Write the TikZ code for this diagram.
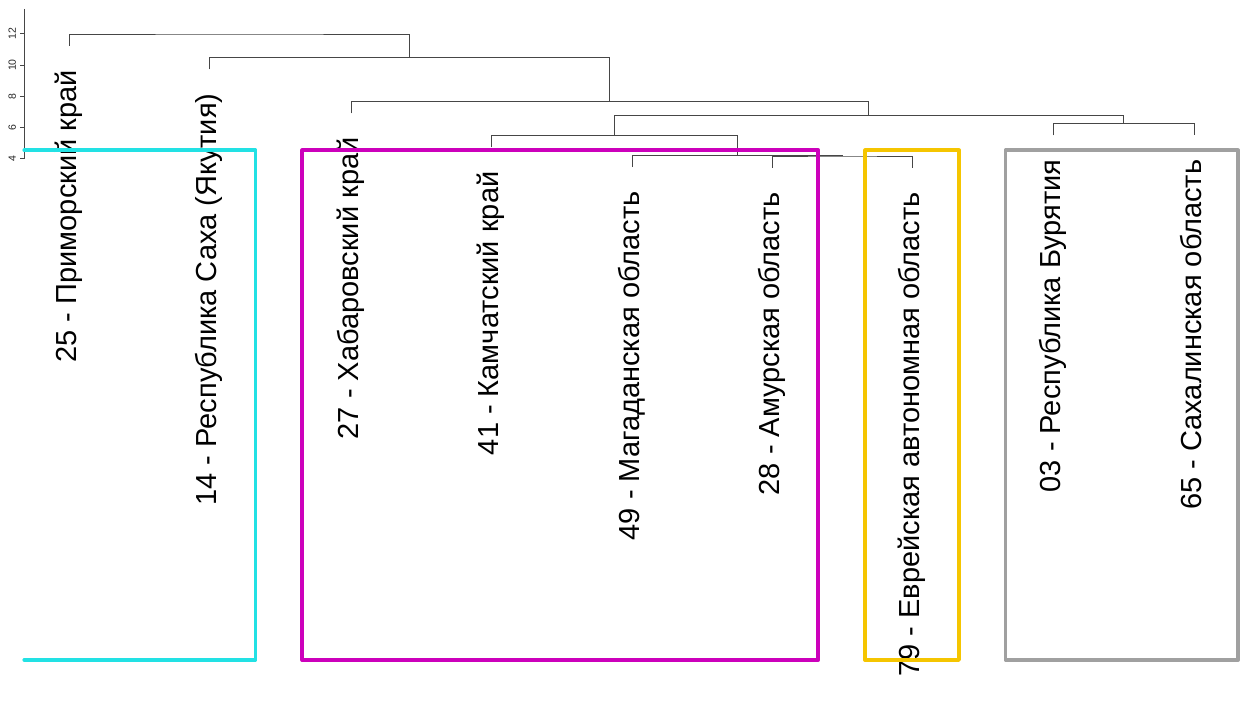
\documentclass[tikz,border=0pt]{standalone}
\usepackage{fontspec}
\setmainfont{Liberation Sans}
\definecolor{dendc}{RGB}{70,70,70}
\definecolor{cyanbox}{RGB}{34,225,228}
\definecolor{magbox}{RGB}{204,0,187}
\definecolor{yelbox}{RGB}{245,197,0}
\definecolor{graybox}{RGB}{160,160,160}
\begin{document}
\begin{tikzpicture}[x=1pt,y=-1pt,
  dend/.style={draw=dendc, line width=0.9pt},
  axisline/.style={draw=dendc, line width=0.8pt},
  leaf/.style={rotate=90, anchor=base east, inner sep=0pt, font=\fontsize{29}{31}\selectfont, text=black},
  ticklab/.style={rotate=90, anchor=base, inner sep=0pt, font=\fontsize{10.5}{12}\selectfont, text=black!85},
  clusterbox/.style={line width=3.8pt, line join=round, line cap=round}]
\useasboundingbox (0,0) rectangle (1247,711);

% leaf stem ends
\coordinate (s1) at (69.3,46);
\coordinate (s2) at (209.7,69.3);
\coordinate (s3) at (351,113.3);
\coordinate (s4) at (491.3,147.5);
\coordinate (s5) at (632,167.2);
\coordinate (s6) at (772.3,168);
\coordinate (s7) at (912.5,168);
\coordinate (s8) at (1053,135.5);
\coordinate (s9) at (1194,135.5);
% merges
\coordinate (m1) at (842.4,156);
\coordinate (m2) at (737.2,155.2);
\coordinate (m3) at (614.25,135.3);
\coordinate (m4) at (1123.5,123.5);
\coordinate (m5) at (868.9,115.5);
\coordinate (m6) at (609.9,101.3);
\coordinate (m7) at (409.8,57.3);
\coordinate (m8) at (239.55,34);

\draw[dend] (s6) |- (m1) -| (s7);
\draw[dend] (s5) |- (m2) -| (m1);
\draw[dend] (s4) |- (m3) -| (m2);
\draw[dend] (s8) |- (m4) -| (s9);
\draw[dend] (m3) |- (m5) -| (m4);
\draw[dend] (s3) |- (m6) -| (m5);
\draw[dend] (s2) |- (m7) -| (m6);
\draw[dend] (s1) |- (m8) -| (m7);

% axis
\coordinate (axtop) at (24.3,9);
\coordinate (axbot) at (24.3,158.7);
\draw[axisline] (axtop) -- (axbot);
\foreach \v in {4,6,8,10,12} {
  \coordinate (tk\v) at (24.3,{158.7-(\v-4)*15.6});
  \draw[axisline] (tk\v) -- ++(-4.5,0);
  \node[ticklab] (tl\v) at ([xshift=-8.3pt]tk\v) {\v};
}

% labels
\node[leaf] (l1) at ([shift={(7,24)}]s1) {25 - Приморский край};
\node[leaf] (l2) at ([shift={(7,24)}]s2) {14 - Республика Саха (Якутия)};
\node[leaf] (l3) at ([shift={(7,24)}]s3) {27 - Хабаровский край};
\node[leaf] (l4) at ([shift={(7,24)}]s4) {41 - Камчатский край};
\node[leaf] (l5) at ([shift={(7,24)}]s5) {49 - Магаданская область};
\node[leaf] (l6) at ([shift={(7,24)}]s6) {28 - Амурская область};
\node[leaf] (l7) at ([shift={(7,24)}]s7) {79 - Еврейская автономная область};
\node[leaf] (l8) at ([shift={(7,24)}]s8) {03 - Республика Бурятия};
\node[leaf] (l9) at ([shift={(7,24)}]s9) {65 - Сахалинская область};

% cluster boxes
\draw[clusterbox, draw=cyanbox] (24.3,150.3) -- (255.5,150.3) -- (255.5,660) -- (24.3,660);
\draw[clusterbox, draw=magbox] (302.3,150.3) rectangle (818.3,660);
\draw[clusterbox, draw=yelbox] (865.2,150.3) rectangle (959,660);
\draw[clusterbox, draw=graybox] (1005.5,150.3) rectangle (1238,660);
\end{tikzpicture}
\end{document}
